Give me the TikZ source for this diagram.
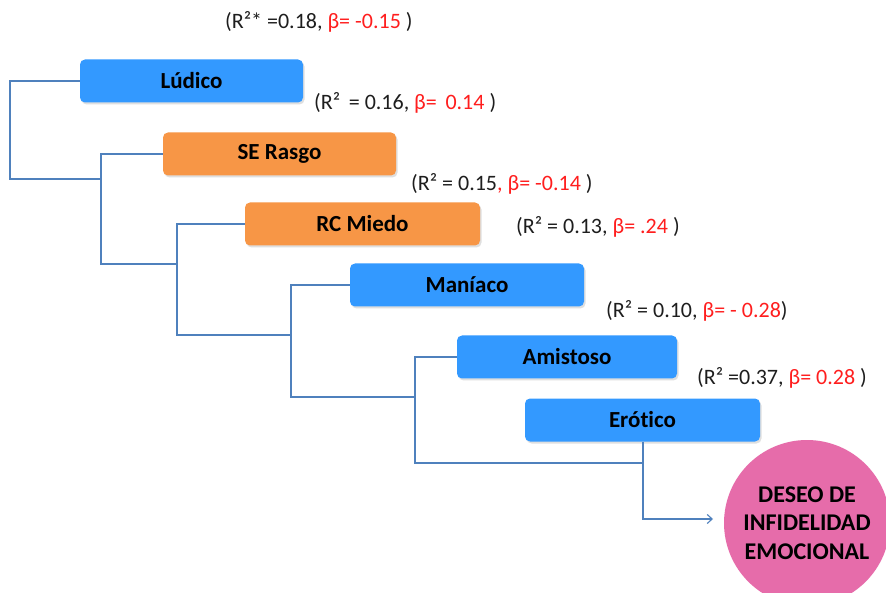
\documentclass[tikz,border=0pt]{standalone}
\usepackage{fontspec}
\setmainfont[Ligatures=NoCommon]{Carlito}
\usetikzlibrary{arrows.meta,shadows}
\definecolor{boxblue}{RGB}{51,153,255}
\definecolor{boxorange}{RGB}{247,150,70}
\definecolor{circpink}{RGB}{230,108,170}
\definecolor{linkblue}{RGB}{79,129,189}
\definecolor{betared}{RGB}{255,30,30}
\definecolor{txtgray}{RGB}{30,30,30}
\tikzset{
  factor/.style={rounded corners=5pt, minimum height=43pt, inner sep=0pt,
    font=\fontsize{23}{25}\selectfont\bfseries, text=black,
    drop shadow={shadow xshift=1.5pt, shadow yshift=-2pt, opacity=0.25}},
  bluebox/.style={factor, fill=boxblue},
  orangebox/.style={factor, fill=boxorange},
  stat/.style={anchor=west, inner sep=0pt, font=\fontsize{22}{24}\selectfont, text=txtgray},
  link/.style={draw=linkblue, line width=1.1pt},
  target/.style={circle, fill=circpink, minimum size=166pt, inner sep=0pt, align=center,
    font=\fontsize{24}{28.5}\selectfont\bfseries, text=black}
}
\begin{document}
\begin{tikzpicture}[x=1pt,y=-1pt]
\useasboundingbox (0,0) rectangle (886,593);
\fill[white] (0,0) rectangle (886,593);
% boxes
\node[bluebox, minimum width=223pt] (ludico) at (191.5,81) {Lúdico};
\node[orangebox, minimum width=233pt] (serasgo) at (279.5,154) {SE Rasgo};
\node[orangebox, minimum width=235pt] (rcmiedo) at (362.5,224) {RC Miedo};
\node[bluebox, minimum width=234pt] (maniaco) at (467,285) {Maníaco};
\node[bluebox, minimum width=220pt] (amistoso) at (567,357) {Amistoso};
\node[bluebox, minimum width=235pt] (erotico) at (642.5,420) {Erótico};
\node[target] (deseo) at (807,523) {DESEO DE\\INFIDELIDAD\\EMOCIONAL};
% junction coordinates
\coordinate (j1) at (101,179);
\coordinate (j2) at (177,264);
\coordinate (j3) at (291,335);
\coordinate (j4) at (415,397);
\coordinate (j5) at (643,463);
% connectors
\draw[link] (ludico.west) -| (10,179) -- (j1);
\draw[link] (serasgo.west) -| (j1) |- (j2);
\draw[link] (rcmiedo.west) -| (j2) |- (j3);
\draw[link] (maniaco.west) -| (j3) |- (j4);
\draw[link] (amistoso.west) -| (j4) |- (j5);
\draw[link, -{Straight Barb[length=5pt,width=9pt]}] (erotico.south -| j5) -- (643,519) -- (713,519);
% statistics
\node[stat] (s1) at (225,22) {(R²* =0.18, \textcolor{betared}{β= -0.15} )};
\node[stat] (s2) at (314,103) {(R²\, = 0.16, \textcolor{betared}{β=\, 0.14} )};
\node[stat] (s3) at (411,184) {(R² = 0.15\textcolor{betared}{, β= -0.14} )};
\node[stat] (s4) at (516,227) {(R² = 0.13, \textcolor{betared}{β= .24} )};
\node[stat] (s5) at (606,311) {(R² = 0.10, \textcolor{betared}{β= - 0.28})};
\node[stat] (s6) at (697,378) {(R² =0.37, \textcolor{betared}{β= 0.28} )};
\end{tikzpicture}
\end{document}
